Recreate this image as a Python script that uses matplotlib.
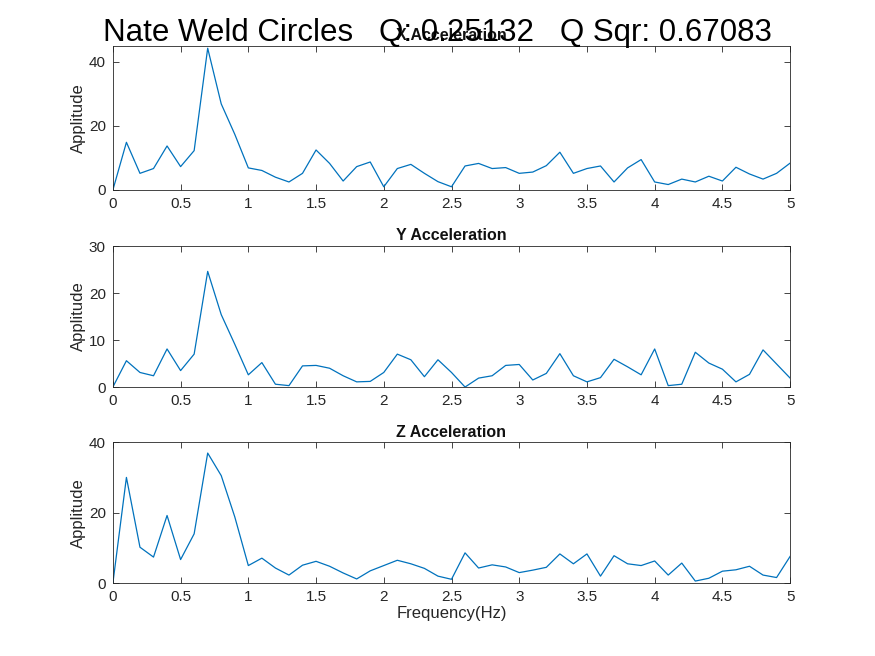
import numpy as np
import matplotlib
matplotlib.use("Agg")
import matplotlib.pyplot as plt

freq = [round(i * 0.1, 1) for i in range(51)]
x_acc = [0, 14.9, 5.2, 6.7, 13.75, 7.3, 12.3, 44.3, 26.9, 17.4, 6.9, 6.1, 4, 2.5, 5.2, 12.5, 8.3, 2.8, 7.3, 8.75,
         1, 6.7, 8, 5.2, 2.6, 1, 7.5, 8.3, 6.7, 7, 5.2, 5.6, 7.6, 11.8, 5.2, 6.7, 7.5, 2.5, 6.9, 9.5,
         2.5, 1.7, 3.4, 2.5, 4.3, 2.8, 7.1, 5, 3.4, 5.2, 8.4]
y_acc = [0, 5.6, 3.1, 2.4, 8.1, 3.5, 7, 24.6, 15.4, 9.1, 2.6, 5.2, 0.6, 0.3, 4.5, 4.6, 4, 2.4, 1.1, 1.2,
         3.1, 7, 5.8, 2.2, 5.8, 3.1, 0, 1.9, 2.4, 4.6, 4.8, 1.5, 2.9, 7.1, 2.4, 1.1, 2, 5.9, 4.3, 2.6,
         8.1, 0.3, 0.6, 7.4, 5.1, 3.8, 1.1, 2.7, 7.9, 4.9, 1.9]
z_acc = [0, 30, 10.2, 7.4, 19.2, 6.7, 14, 36.9, 30.5, 18.8, 5, 7.1, 4.3, 2.3, 5.1, 6.2, 4.8, 2.9, 1.2, 3.5,
         5, 6.5, 5.5, 4.2, 2, 1.1, 8.6, 4.3, 5.2, 4.6, 3, 3.7, 4.5, 8.3, 5.5, 8.3, 2, 7.8, 5.5, 5,
         6.3, 2.3, 5.7, 0.6, 1.4, 3.4, 3.8, 4.8, 2.3, 1.6, 7.6]

titles = ["X Acceleration", "Y Acceleration", "Z Acceleration"]
series = [x_acc, y_acc, z_acc]
ylims = [(0, 45), (0, 30), (0, 40)]
yticks = [[0, 20, 40], [0, 10, 20, 30], [0, 20, 40]]
xticks = [0, 0.5, 1, 1.5, 2, 2.5, 3, 3.5, 4, 4.5, 5]
xticklabels = ["0", "0.5", "1", "1.5", "2", "2.5", "3", "3.5", "4", "4.5", "5"]

plt.rcParams['font.family'] = ['Liberation Sans', 'DejaVu Sans']
fig = plt.figure(figsize=(8.75, 6.56), dpi=100)
rects = [(0.129, 0.7104, 0.774, 0.2195), (0.129, 0.41, 0.774, 0.215), (0.129, 0.111, 0.774, 0.215)]
col = (0, 0.447, 0.741)
for i, r in enumerate(rects):
    ax = fig.add_axes(r)
    ax.plot(freq, series[i], color=col, lw=0.9)
    ax.set_xlim(0, 5)
    ax.set_ylim(*ylims[i])
    ax.set_yticks(yticks[i])
    ax.set_xticks(xticks)
    ax.set_xticklabels(xticklabels)
    ax.tick_params(direction='in', top=True, right=True, labelsize=11, color='#262626', labelcolor='#262626', length=4, width=0.6, pad=5)
    for s in ax.spines.values():
        s.set_color('#262626'); s.set_linewidth(0.6)
    ax.set_title(titles[i], fontsize=11.5, fontweight='bold', pad=4, color='#111111')
    ax.set_ylabel("Applitude", fontsize=12, color='#262626', labelpad=2)
    if i == 2:
        ax.set_xlabel("Frequency(Hz)", fontsize=12, color='#262626', labelpad=1)

fig.text(0.5, 0.949, "Nate Weld Circles   Q: 0.25132   Q Sqr: 0.67083", ha='center', va='center', fontsize=22.5)
fig.savefig("out.png", dpi=100, facecolor='white')
